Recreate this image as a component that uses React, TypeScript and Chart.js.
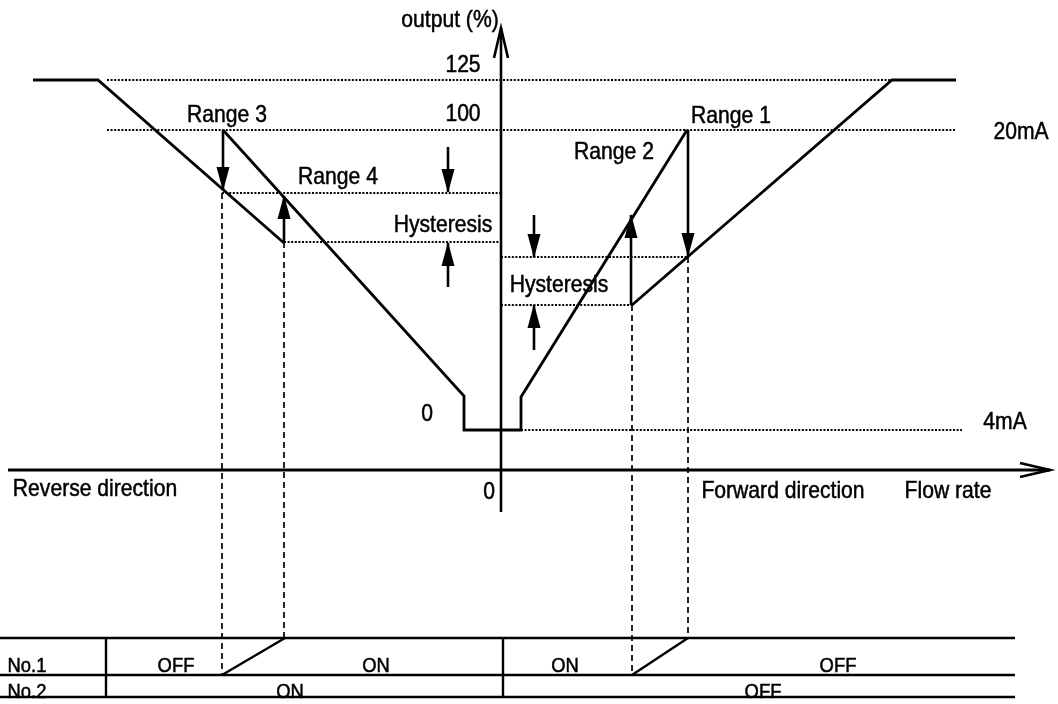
import React, { useEffect, useRef } from "react";
import { Chart, registerables } from "chart.js";

Chart.register(...registerables);

// Schematic coordinates: x = flow rate (0 on the output axis), y = output level (0 on the flow axis)

// output curve branches
const outerLeftX = [-468, -403, -217];
const outerLeftY = [390, 390, 227];
const innerX = [-278, -37, -37, 20, 20, 186];
const innerY = [340, 74, 40, 40, 73, 340];
const outerRightX = [131, 391, 455];
const outerRightY = [165, 390, 390];

// dotted reference levels (125 %, 100 %, hysteresis bands, 4 mA)
const levelY = [390, 340, 277, 228, 213, 165, 40];
const levelStartX = [-394, -394, -279, -217, 0, 0, 20];
const levelEndX = [391, 455, 0, 0, 187, 131, 461];

// switching points, dashed drop lines to the relay table
const switchX = [-279, -217, 131, 187];
const switchTopY = [277, 228, 165, 213];
const switchBottomY = [-205, -168, -205, -168];

// filled arrows (Range 3, Range 4, Range 2, Range 1, hysteresis marks)
const arrowX = [-278, -217, 130, 187, -53, -53, 33, 33];
const arrowFromY = [340, 227, 165, 340, 323, 183, 255, 120];
const arrowToY = [280, 274, 255, 214, 278, 227, 213, 165];

// axes
const flowAxisX = [-493, 549];
const flowAxisY = [0, 0];
const outputAxisX = [0, 0];
const outputAxisY = [-42, 442];

// relay table
const tableRowY = [-168, -205, -227];
const tableSpanX = [-501, 514];
const tableColX = [2, -395];
const tableColY = [-168, -227];
const slantFromX = [-279, 131];
const slantToX = [-216, 187];
const slantY = [-205, -168];

// labels
const labelText = [
  "output (%)", "125", "100", "Range 3", "Range 4", "Hysteresis", "Hysteresis",
  "Range 2", "Range 1", "20mA", "0", "4mA", "Reverse direction", "0",
  "Forward direction", "Flow rate",
];
const labelX = [-51, -38, -38, -274, -163, -58, 58, 113, 230, 520, -74, 504, -406, -12, 282, 447];
const labelY = [443, 398, 349, 348, 286, 238, 178, 311, 347, 331, 49, 41, -26, -29, -28, -28];

const tableText = ["No.1", "No.2", "OFF", "ON", "ON", "OFF", "ON", "OFF"];
const tableTextX = [-474, -474, -325, -125, 64, 337, -211, 262];
const tableTextY = [-202, -228, -202, -202, -202, -202, -228, -228];

const pts = (xs: number[], ys: number[]) => xs.map((x, i) => ({ x, y: ys[i] }));

export default function App() {
  const ref = useRef<HTMLCanvasElement | null>(null);

  useEffect(() => {
    document.body.style.margin = "0";
    document.body.style.overflow = "hidden";
    const canvas = ref.current;
    if (!canvas) return;

    const base = {
      showLine: true,
      pointRadius: 0,
      pointHoverRadius: 0,
      borderColor: "#000",
      backgroundColor: "#000",
      fill: false,
      tension: 0,
      borderCapStyle: "butt",
      borderJoinStyle: "miter",
    };

    const datasets: any[] = [];
    const solid = (xs: number[], ys: number[], w: number, extra: any = {}) =>
      datasets.push({ ...base, data: pts(xs, ys), borderWidth: w, ...extra });

    // dotted levels
    levelY.forEach((y, i) =>
      solid([levelStartX[i], levelEndX[i]], [y, y], 1.8, { borderDash: [2, 1.6] })
    );
    // dashed drops
    switchX.forEach((x, i) =>
      solid([x, x], [switchTopY[i], switchBottomY[i]], 1.7, { borderDash: [6, 4] })
    );
    // output curve
    solid(outerLeftX, outerLeftY, 2.8);
    solid(innerX, innerY, 2.8);
    solid(outerRightX, outerRightY, 2.8);
    // arrows
    arrowX.forEach((x, i) =>
      solid([x, x], [arrowFromY[i], arrowToY[i]], 2.6, { arrowHead: "filled" })
    );
    // axes
    solid(flowAxisX, flowAxisY, 3, { arrowHead: "open" });
    solid(outputAxisX, outputAxisY, 2.6, { arrowHead: "open" });
    // table
    tableRowY.forEach((y) => solid(tableSpanX, [y, y], 2.6));
    tableColX.forEach((x) => solid([x, x], tableColY, 2.4));
    slantFromX.forEach((x, i) => solid([x, slantToX[i]], slantY, 2.4));

    const arrowPlugin = {
      id: "arrowHeads",
      afterDatasetsDraw(chart: any) {
        const ctx = chart.ctx;
        chart.data.datasets.forEach((ds: any, i: number) => {
          if (!ds.arrowHead) return;
          const el = chart.getDatasetMeta(i).data;
          const a = el[el.length - 2];
          const b = el[el.length - 1];
          const ang = Math.atan2(b.y - a.y, b.x - a.x);
          ctx.save();
          ctx.translate(b.x, b.y);
          ctx.rotate(ang);
          ctx.fillStyle = "#000";
          ctx.strokeStyle = "#000";
          if (ds.arrowHead === "filled") {
            ctx.beginPath();
            ctx.moveTo(1, 0);
            ctx.lineTo(-23, -6.5);
            ctx.lineTo(-23, 6.5);
            ctx.closePath();
            ctx.fill();
          } else {
            ctx.lineWidth = 2.6;
            ctx.beginPath();
            ctx.moveTo(-30, -7);
            ctx.lineTo(0, 0);
            ctx.lineTo(-30, 7);
            ctx.stroke();
          }
          ctx.restore();
        });
      },
    };

    const textPlugin = {
      id: "diagramText",
      afterDatasetsDraw(chart: any) {
        const ctx = chart.ctx;
        const xs = chart.scales.x;
        const ys = chart.scales.y;
        ctx.save();
        ctx.fillStyle = "#000";
        ctx.strokeStyle = "#000";
        ctx.lineWidth = 0.5;
        ctx.textAlign = "center";
        ctx.textBaseline = "alphabetic";
        labelText.forEach((t, i) => {
          ctx.save();
          ctx.translate(xs.getPixelForValue(labelX[i]), ys.getPixelForValue(labelY[i]));
          ctx.scale(0.88, 1);
          ctx.font = '24px "Liberation Sans", Arial, sans-serif';
          ctx.fillText(t, 0, 0);
          ctx.strokeText(t, 0, 0);
          ctx.restore();
        });
        tableText.forEach((t, i) => {
          ctx.save();
          ctx.translate(xs.getPixelForValue(tableTextX[i]), ys.getPixelForValue(tableTextY[i]));
          ctx.scale(0.92, 1);
          ctx.font = '20px "Liberation Sans", Arial, sans-serif';
          ctx.fillText(t, 0, 0);
          ctx.strokeText(t, 0, 0);
          ctx.restore();
        });
        ctx.restore();
      },
    };

    const chart = new Chart(canvas, {
      type: "scatter",
      data: { datasets },
      options: {
        responsive: false,
        animation: false,
        devicePixelRatio: 1,
        events: [],
        layout: { padding: 0 },
        plugins: { legend: { display: false }, tooltip: { enabled: false } },
        scales: {
          x: { type: "linear", min: -501, max: 557, display: false },
          y: { type: "linear", min: -234, max: 470, display: false },
        },
      },
      plugins: [arrowPlugin, textPlugin],
    } as any);

    return () => chart.destroy();
  }, []);

  return (
    <div style={{ width: 1058, height: 704, background: "#fff" }}>
      <canvas ref={ref} width={1058} height={704} style={{ display: "block", width: 1058, height: 704 }} />
    </div>
  );
}
